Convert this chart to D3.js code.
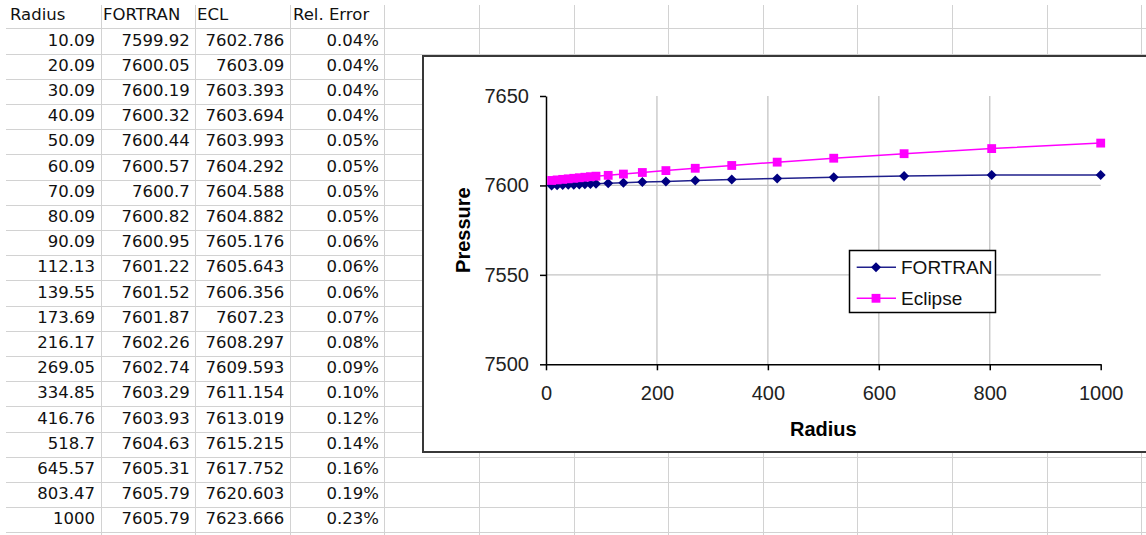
<!DOCTYPE html>
<html>
<head>
<meta charset="utf-8">
<script src="https://cdn.jsdelivr.net/npm/d3@7"></script>
<style>
  body { margin: 0; background: #fff; }
  svg { display: block; }
</style>
</head>
<body>
<div id="sheet"></div>
<script>
// --- Data read from the worksheet ---
const radius = [10.09, 20.09, 30.09, 40.09, 50.09, 60.09, 70.09, 80.09, 90.09, 112.13,
  139.55, 173.69, 216.17, 269.05, 334.85, 416.76, 518.7, 645.57, 803.47, 1000];
const fortran = [7599.92, 7600.05, 7600.19, 7600.32, 7600.44, 7600.57, 7600.7, 7600.82, 7600.95, 7601.22,
  7601.52, 7601.87, 7602.26, 7602.74, 7603.29, 7603.93, 7604.63, 7605.31, 7605.79, 7605.79];
const eclipse = [7602.786, 7603.09, 7603.393, 7603.694, 7603.993, 7604.292, 7604.588, 7604.882, 7605.176, 7605.643,
  7606.356, 7607.23, 7608.297, 7609.593, 7611.154, 7613.019, 7615.215, 7617.752, 7620.603, 7623.666];
const relError = ["0.04%", "0.04%", "0.04%", "0.04%", "0.05%", "0.05%", "0.05%", "0.05%", "0.06%", "0.06%",
  "0.06%", "0.07%", "0.08%", "0.09%", "0.10%", "0.12%", "0.14%", "0.16%", "0.19%", "0.23%"];
const headers = ["Radius", "FORTRAN", "ECL", "Rel. Error"];
const seriesNames = ["FORTRAN", "Eclipse"];
const xTicks = [0, 200, 400, 600, 800, 1000];
const yTicks = [7500, 7550, 7600, 7650];

const W = 1146, H = 535;
const svg = d3.select("#sheet").append("svg")
  .attr("width", W)
  .attr("height", H);

// --------------------------
// WORKSHEET GRID
// --------------------------
const rowH = 25.2, top0 = 3.1, colW = 94.6, left0 = 6;
const gridColor = "#d2d2d2";

const grid = svg.append("g").attr("class", "grid");
grid.selectAll("line.row")
  .data(d3.range(1, 22))
  .join("line")
    .attr("class", "row")
    .attr("x1", left0).attr("x2", W)
    .attr("y1", i => Math.round(top0 + i * rowH) + 0.5)
    .attr("y2", i => Math.round(top0 + i * rowH) + 0.5)
    .attr("stroke", gridColor);

grid.selectAll("line.col")
  .data(d3.range(1, 13))
  .join("line")
    .attr("class", "col")
    .attr("x1", k => Math.round(left0 + k * colW) + 0.5)
    .attr("x2", k => Math.round(left0 + k * colW) + 0.5)
    .attr("y1", 5).attr("y2", H)
    .attr("stroke", gridColor);

// Cell text
const cells = svg.append("g")
  .attr("font-family", "DejaVu Sans, sans-serif")
  .attr("font-size", 16.5)
  .attr("fill", "#111");

const headerX = [10, 103, 197, 293];
cells.selectAll("text.head")
  .data(headers)
  .join("text")
    .attr("class", "head")
    .attr("x", (d, i) => headerX[i])
    .attr("y", top0 + rowH - 8)
    .text(d => d);

const rows = radius.map((r, i) => [String(r), String(fortran[i]), String(eclipse[i]), relError[i]]);
rows.forEach((row, i) => {
  cells.selectAll(null)
    .data(row)
    .join("text")
      .attr("text-anchor", "end")
      .attr("x", (d, k) => left0 + (k + 1) * colW - 5.5)
      .attr("y", top0 + (i + 2) * rowH - 8)
      .text(d => d);
});

// --------------------------
// EMBEDDED CHART
// --------------------------
const chart = svg.append("g").attr("class", "chart");
chart.append("rect")
  .attr("x", 423).attr("y", 56)
  .attr("width", 740).attr("height", 396)
  .attr("fill", "#fff")
  .attr("stroke", "#383838")
  .attr("stroke-width", 2);

const x = d3.scaleLinear().domain([0, 1000]).range([546, 1100.7]);
const y = d3.scaleLinear().domain([7500, 7650]).range([364.3, 96]);

// Gridlines
chart.append("g")
  .selectAll("line")
  .data([7550, 7600])
  .join("line")
    .attr("x1", x(0)).attr("x2", x(1000))
    .attr("y1", d => y(d)).attr("y2", d => y(d))
    .attr("stroke", "#c4c4c4").attr("stroke-width", 1.3);
chart.append("g")
  .selectAll("line")
  .data([200, 400, 600, 800])
  .join("line")
    .attr("x1", d => x(d)).attr("x2", d => x(d))
    .attr("y1", y(7650)).attr("y2", y(7500))
    .attr("stroke", "#c4c4c4").attr("stroke-width", 1.3);

// Axes
const yAxis = chart.append("g")
  .attr("transform", `translate(${x(0)},0)`)
  .call(d3.axisLeft(y).tickValues(yTicks).tickSize(6).tickSizeOuter(0).tickPadding(11).tickFormat(d3.format("d")));
const xAxis = chart.append("g")
  .attr("transform", `translate(0,${y(7500)})`)
  .call(d3.axisBottom(x).tickValues(xTicks).tickSize(6).tickSizeOuter(0).tickPadding(16).tickFormat(d3.format("d")));

[xAxis, yAxis].forEach(a => {
  a.selectAll("path, line").attr("stroke", "#000").attr("stroke-width", 1.5);
  a.selectAll("text")
    .attr("font-family", "Liberation Sans, Arial, sans-serif")
    .attr("font-size", 20)
    .attr("fill", "#222");
});

// Axis titles
chart.append("text")
  .attr("x", (x(0) + x(1000)) / 2)
  .attr("y", 436)
  .attr("text-anchor", "middle")
  .attr("font-family", "Liberation Sans, Arial, sans-serif")
  .attr("font-weight", "bold")
  .attr("font-size", 20)
  .text("Radius");
chart.append("text")
  .attr("transform", `translate(470,${(y(7500) + y(7650)) / 2}) rotate(-90)`)
  .attr("text-anchor", "middle")
  .attr("font-family", "Liberation Sans, Arial, sans-serif")
  .attr("font-weight", "bold")
  .attr("font-size", 20)
  .text("Pressure");

// Series
const series = [
  { name: seriesNames[0], values: fortran, line: "#20208c", fill: "#000080", shape: "diamond" },
  { name: seriesNames[1], values: eclipse, line: "#ff00ff", fill: "#ff00ff", shape: "square" }
];
const diamond = d3.symbol().type(d3.symbolSquare).size(50)();
const square = d3.symbol().type(d3.symbolSquare).size(78)();

const line = d3.line();
series.forEach(s => {
  const pts = radius.map((r, i) => [x(r), y(s.values[i])]);
  chart.append("path")
    .attr("d", line(pts))
    .attr("fill", "none")
    .attr("stroke", s.line)
    .attr("stroke-width", 1.5);
  chart.append("g")
    .selectAll("path")
    .data(pts)
    .join("path")
      .attr("d", s.shape === "diamond" ? diamond : square)
      .attr("transform", d => `translate(${d[0]},${d[1]})` + (s.shape === "diamond" ? " rotate(45)" : ""))
      .attr("fill", s.fill);
});

// Legend
const legend = chart.append("g").attr("class", "legend");
legend.append("rect")
  .attr("x", 849.5).attr("y", 250.5)
  .attr("width", 146).attr("height", 62)
  .attr("fill", "#fff")
  .attr("stroke", "#000")
  .attr("stroke-width", 1.5);
const legendY = [267.3, 298.3];
series.forEach((s, i) => {
  const ly = legendY[i];
  legend.append("line")
    .attr("x1", 856.7).attr("x2", 896)
    .attr("y1", ly).attr("y2", ly)
    .attr("stroke", s.line).attr("stroke-width", 1.5);
  legend.append("path")
    .attr("d", s.shape === "diamond" ? diamond : square)
    .attr("transform", `translate(876,${ly})` + (s.shape === "diamond" ? " rotate(45)" : ""))
    .attr("fill", s.fill);
  legend.append("text")
    .attr("x", 901)
    .attr("y", ly + 6.5)
    .attr("font-family", "Liberation Sans, Arial, sans-serif")
    .attr("font-size", 19)
    .attr("fill", "#111")
    .text(s.name);
});
</script>
</body>
</html>
